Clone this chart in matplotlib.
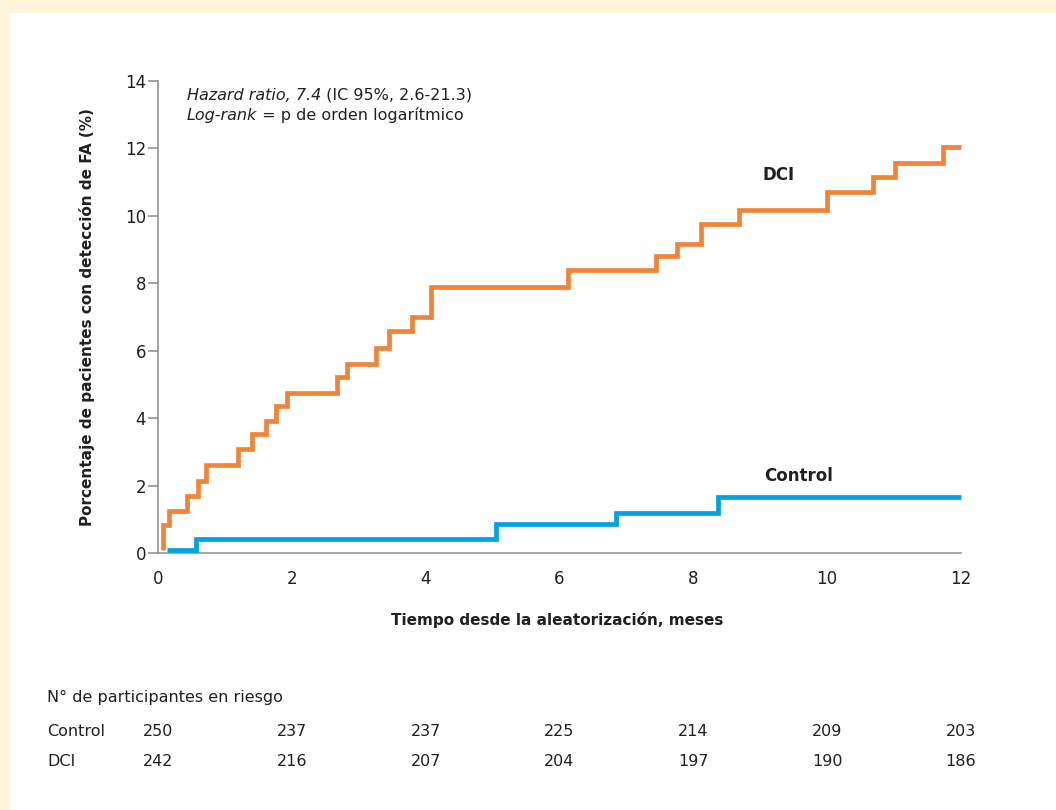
import matplotlib
matplotlib.use('Agg')
import matplotlib.pyplot as plt
from matplotlib.patches import Rectangle
from matplotlib.transforms import blended_transform_factory

# Curvas de Kaplan-Meier (meses, % con FA)
dci_t = [0.07, 0.07, 0.16, 0.44, 0.60, 0.71, 1.19, 1.40, 1.61, 1.76, 1.93,
         2.67, 2.83, 3.26, 3.45, 3.79, 4.08, 6.12, 7.44, 7.75, 8.11, 8.68,
         10.00, 10.69, 11.02, 11.73, 12.00]
dci_pct = [0.10, 0.82, 1.26, 1.70, 2.15, 2.60, 3.09, 3.52, 3.91, 4.35, 4.74,
           5.21, 5.60, 6.09, 6.57, 6.99, 7.88, 8.38, 8.82, 9.17, 9.77, 10.18,
           10.70, 11.16, 11.56, 12.03, 12.03]

control_t = [0.14, 0.57, 5.05, 6.84, 8.37, 12.00]
control_pct = [0.10, 0.42, 0.85, 1.20, 1.65, 1.65]

# Participantes en riesgo
risk_months = [0, 2, 4, 6, 8, 10, 12]
risk_control = [250, 237, 237, 225, 214, 209, 203]
risk_dci = [242, 216, 207, 204, 197, 190, 186]

x_ticks = [0, 2, 4, 6, 8, 10, 12]
y_ticks = [0, 2, 4, 6, 8, 10, 12, 14]

ORANGE = '#F08539'
BLUE = '#00A2E1'
GREY = '#8C8C8C'
INK = '#231F20'
CREAM = '#FEF5DB'

plt.rcParams['font.family'] = ['DejaVu Sans']

fig = plt.figure(figsize=(10.56, 8.1), dpi=100, facecolor=CREAM)
fig.patches.append(Rectangle((9 / 1056, 0), 1, 1 - 13 / 810,
                             transform=fig.transFigure, facecolor='white',
                             edgecolor='none', zorder=-1))

ax = fig.add_axes([158 / 1056, 1 - 553 / 810, (961 - 158) / 1056, (553 - 81) / 810])
ax.set_facecolor('none')

ax.step(dci_t, dci_pct, where='post', color=ORANGE, lw=3.4,
        solid_capstyle='butt', solid_joinstyle='miter', clip_on=False, zorder=3)
ax.step(control_t, control_pct, where='post', color=BLUE, lw=3.4,
        solid_capstyle='butt', solid_joinstyle='miter', clip_on=False, zorder=3)

ax.set_xlim(0, 12)
ax.set_ylim(0, 14)

for side in ['top', 'right']:
    ax.spines[side].set_visible(False)
for side in ['left', 'bottom']:
    ax.spines[side].set_color(GREY)
    ax.spines[side].set_linewidth(1.1)

ax.set_xticks(x_ticks)
ax.set_xticks([0, 12], minor=True)
ax.set_yticks(y_ticks)
ax.tick_params(axis='x', which='major', length=0, pad=12, labelsize=12, labelcolor=INK)
ax.tick_params(axis='x', which='minor', length=6, width=1.1, color=GREY)
ax.tick_params(axis='y', length=7, width=1.1, color=GREY, pad=1.5,
               labelsize=12, labelcolor=INK)

# Anotaciones
t1 = ax.text(0.43, 13.36, 'Hazard ratio, 7.4', style='italic', fontsize=11.5,
             color=INK, va='bottom')
ax.annotate(' (IC 95%, 2.6-21.3)', xy=(1, 0), xycoords=t1, va='bottom',
            fontsize=11.5, color=INK)
t2 = ax.text(0.43, 12.74, 'Log-rank', style='italic', fontsize=11.5,
             color=INK, va='bottom')
ax.annotate(' = p de orden logarítmico', xy=(1, 0), xycoords=t2, va='bottom',
            fontsize=11.5, color=INK)

ax.text(9.27, 11.2, 'DCI', fontsize=12, fontweight='bold', color=INK,
        ha='center', va='center')
ax.text(9.57, 2.27, 'Control', fontsize=12, fontweight='bold', color=INK,
        ha='center', va='center')

fig.text(0.0824, 1 - 317 / 810, 'Porcentaje de pacientes con detección de FA (%)',
         rotation=90, fontsize=11, fontweight='bold', color=INK,
         ha='center', va='center')
fig.text(557 / 1056, 1 - 620 / 810, 'Tiempo desde la aleatorización, meses',
         fontsize=11, fontweight='bold', color=INK, ha='center', va='center')

# Tabla de riesgo
fig.text(47 / 1056, 1 - 697 / 810, 'N° de participantes en riesgo',
         fontsize=11.5, color=INK, va='center')
fig.text(47 / 1056, 1 - 732 / 810, 'Control', fontsize=11.5, color=INK, va='center')
fig.text(47 / 1056, 1 - 762 / 810, 'DCI', fontsize=11.5, color=INK, va='center')

trans = blended_transform_factory(ax.transData, fig.transFigure)
for m, c, d in zip(risk_months, risk_control, risk_dci):
    ax.text(m, 1 - 732 / 810, str(c), transform=trans, fontsize=11.5,
            color=INK, ha='center', va='center', clip_on=False)
    ax.text(m, 1 - 762 / 810, str(d), transform=trans, fontsize=11.5,
            color=INK, ha='center', va='center', clip_on=False)

fig.savefig('out.png', dpi=100, facecolor=fig.get_facecolor())
